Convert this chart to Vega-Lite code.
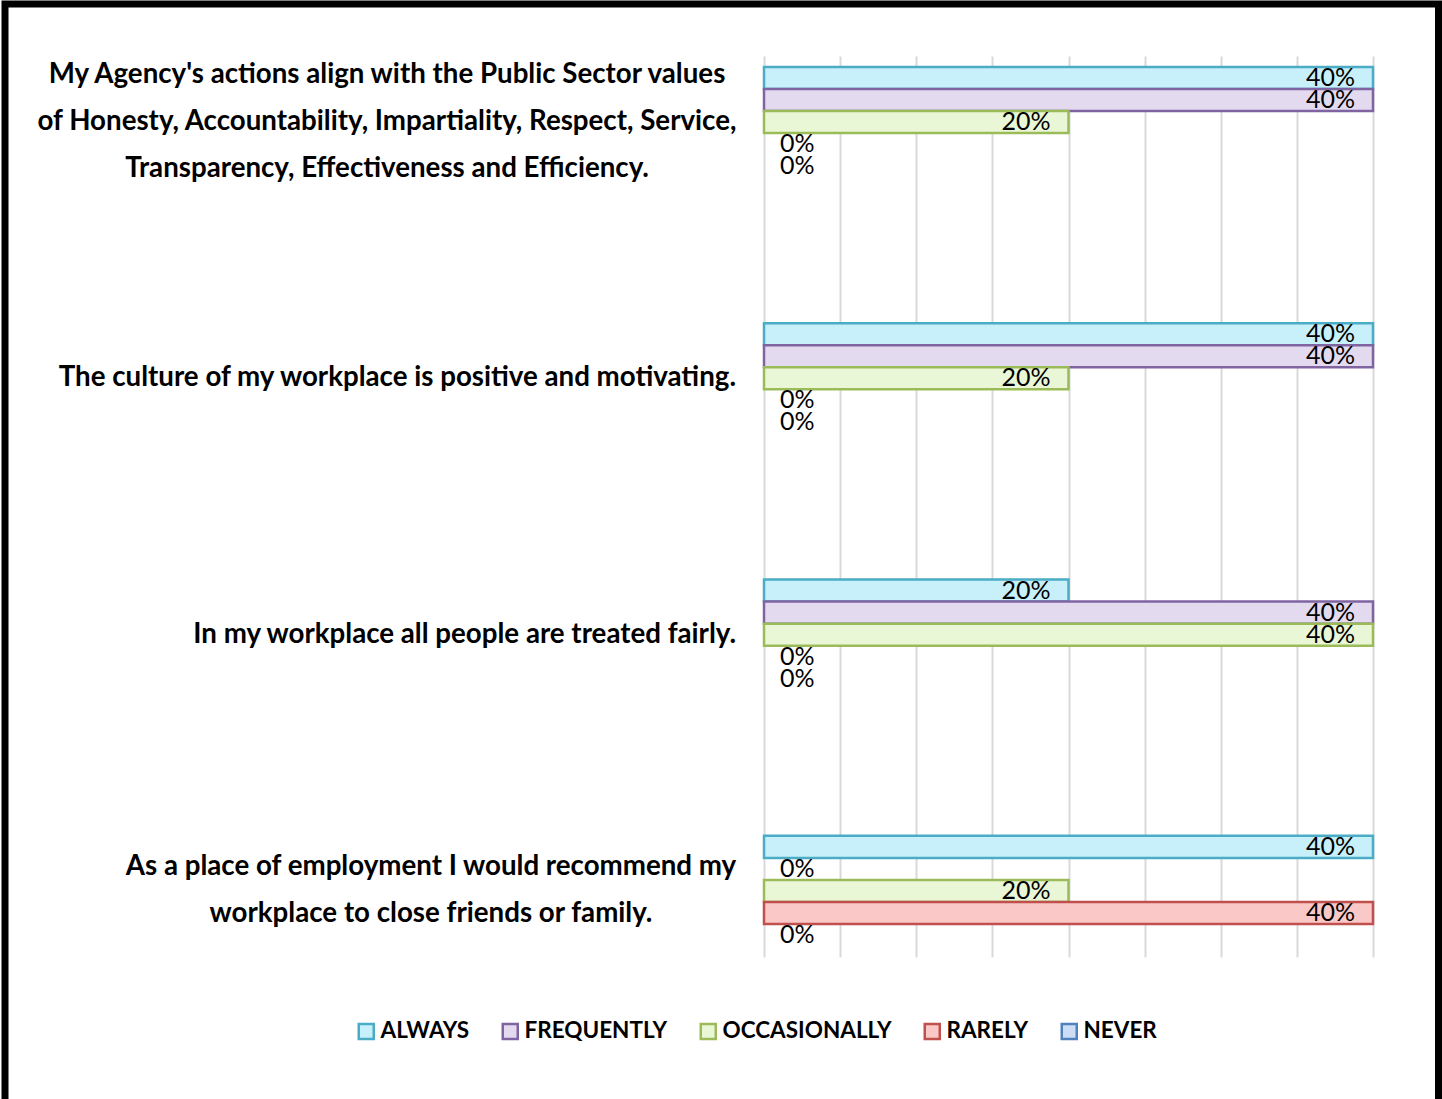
{
  "$schema": "https://vega.github.io/schema/vega-lite/v6.json",
  "width": 1433.5,
  "height": 1095,
  "autosize": {"type": "none"},
  "padding": {"left": 5, "top": 4, "right": 3.5, "bottom": 0},
  "background": "white",
  "view": {"stroke": "black", "strokeWidth": 7, "strokeDash": [2528.5, 1433.5, 1095], "fill": "white"},
  "data": {
    "values": [
      {"category": "My Agency's actions align with the Public Sector values\nof Honesty, Accountability, Impartiality, Respect, Service,\nTransparency, Effectiveness and Efficiency.", "series": "ALWAYS", "value": 0.4},
      {"category": "My Agency's actions align with the Public Sector values\nof Honesty, Accountability, Impartiality, Respect, Service,\nTransparency, Effectiveness and Efficiency.", "series": "FREQUENTLY", "value": 0.4},
      {"category": "My Agency's actions align with the Public Sector values\nof Honesty, Accountability, Impartiality, Respect, Service,\nTransparency, Effectiveness and Efficiency.", "series": "OCCASIONALLY", "value": 0.2},
      {"category": "My Agency's actions align with the Public Sector values\nof Honesty, Accountability, Impartiality, Respect, Service,\nTransparency, Effectiveness and Efficiency.", "series": "RARELY", "value": 0},
      {"category": "My Agency's actions align with the Public Sector values\nof Honesty, Accountability, Impartiality, Respect, Service,\nTransparency, Effectiveness and Efficiency.", "series": "NEVER", "value": 0},
      {"category": "The culture of my workplace is positive and motivating.", "series": "ALWAYS", "value": 0.4},
      {"category": "The culture of my workplace is positive and motivating.", "series": "FREQUENTLY", "value": 0.4},
      {"category": "The culture of my workplace is positive and motivating.", "series": "OCCASIONALLY", "value": 0.2},
      {"category": "The culture of my workplace is positive and motivating.", "series": "RARELY", "value": 0},
      {"category": "The culture of my workplace is positive and motivating.", "series": "NEVER", "value": 0},
      {"category": "In my workplace all people are treated fairly.", "series": "ALWAYS", "value": 0.2},
      {"category": "In my workplace all people are treated fairly.", "series": "FREQUENTLY", "value": 0.4},
      {"category": "In my workplace all people are treated fairly.", "series": "OCCASIONALLY", "value": 0.4},
      {"category": "In my workplace all people are treated fairly.", "series": "RARELY", "value": 0},
      {"category": "In my workplace all people are treated fairly.", "series": "NEVER", "value": 0},
      {"category": "As a place of employment I would recommend my\nworkplace to close friends or family.", "series": "ALWAYS", "value": 0.4},
      {"category": "As a place of employment I would recommend my\nworkplace to close friends or family.", "series": "FREQUENTLY", "value": 0},
      {"category": "As a place of employment I would recommend my\nworkplace to close friends or family.", "series": "OCCASIONALLY", "value": 0.2},
      {"category": "As a place of employment I would recommend my\nworkplace to close friends or family.", "series": "RARELY", "value": 0.4},
      {"category": "As a place of employment I would recommend my\nworkplace to close friends or family.", "series": "NEVER", "value": 0}
    ]
  },
  "encoding": {
    "y": {
      "field": "category",
      "type": "nominal",
      "sort": null,
      "title": null,
      "scale": {"range": [52, 953], "paddingInner": 0.5703, "paddingOuter": 0.043},
      "axis": null
    },
    "x": {
      "field": "value",
      "type": "quantitative",
      "title": null,
      "scale": {"domain": [0, 0.4], "range": [759, 1368], "nice": false},
      "axis": {
        "orient": "top",
        "values": [0, 0.05, 0.1, 0.15, 0.2, 0.25, 0.3, 0.35, 0.4],
        "labels": false,
        "ticks": false,
        "domain": false,
        "grid": true,
        "gridColor": "#D9D9D9",
        "gridWidth": 2
      }
    }
  },
  "layer": [
    {
      "transform": [{"filter": "datum.value > 0"}],
      "mark": {"type": "bar", "strokeWidth": 2.5},
      "encoding": {
        "yOffset": {
          "field": "series",
          "type": "nominal",
          "sort": ["ALWAYS", "FREQUENTLY", "OCCASIONALLY", "RARELY", "NEVER"],
          "scale": {"domain": ["ALWAYS", "FREQUENTLY", "OCCASIONALLY", "RARELY", "NEVER"], "paddingInner": 0, "paddingOuter": 0}
        },
        "fill": {
          "field": "series",
          "type": "nominal",
          "scale": {
            "domain": ["ALWAYS", "FREQUENTLY", "OCCASIONALLY", "RARELY", "NEVER"],
            "range": ["#C8F0FA", "#E3DAF0", "#EAF7D6", "#FAC8C7", "#CCDDF5"]
          },
          "legend": {
            "orient": "none", "legendX": 350, "legendY": 1016, "direction": "horizontal", "title": null,
            "symbolType": "square", "symbolSize": 225, "symbolStrokeWidth": 2.5,
            "labelFont": "Lato",
            "labelFontSize": 22.5, "labelFontWeight": "bold", "labelColor": "black",
            "labelOffset": 3, "columnPadding": 27, "labelLimit": 0
          }
        },
        "stroke": {
          "field": "series",
          "type": "nominal",
          "scale": {
            "domain": ["ALWAYS", "FREQUENTLY", "OCCASIONALLY", "RARELY", "NEVER"],
            "range": ["#4BACC6", "#8064A2", "#9BBB59", "#C0504D", "#4F81BD"]
          },
          "legend": {
            "orient": "none", "legendX": 350, "legendY": 1016, "direction": "horizontal", "title": null,
            "symbolType": "square", "symbolSize": 225, "symbolStrokeWidth": 2.5,
            "labelFont": "Lato",
            "labelFontSize": 22.5, "labelFontWeight": "bold", "labelColor": "black",
            "labelOffset": 3, "columnPadding": 27, "labelLimit": 0
          }
        }
      }
    },
    {
      "transform": [{"filter": "datum.value > 0"}],
      "mark": {"type": "text", "align": "right", "baseline": "middle", "dx": -18, "font": "Lato", "fontSize": 25, "color": "black"},
      "encoding": {
        "yOffset": {"field": "series", "type": "nominal", "sort": ["ALWAYS", "FREQUENTLY", "OCCASIONALLY", "RARELY", "NEVER"]},
        "text": {"field": "value", "type": "quantitative", "format": ".0%"}
      }
    },
    {
      "transform": [{"filter": "datum.value == 0"}],
      "mark": {"type": "text", "align": "left", "baseline": "middle", "dx": 16, "font": "Lato", "fontSize": 25, "color": "black"},
      "encoding": {
        "yOffset": {"field": "series", "type": "nominal", "sort": ["ALWAYS", "FREQUENTLY", "OCCASIONALLY", "RARELY", "NEVER"]},
        "text": {"field": "value", "type": "quantitative", "format": ".0%"}
      }
    },
    {
      "transform": [{"filter": "datum.series == 'ALWAYS' && indexof(datum.category, '\\n') < 0"}],
      "mark": {"type": "text", "align": "right", "baseline": "middle", "dx": -28, "font": "Lato", "fontWeight": "bold", "fontSize": 27.7, "color": "black"},
      "encoding": {
        "x": {"datum": 0, "type": "quantitative"},
        "text": {"field": "category", "type": "nominal"}
      }
    },
    {
      "transform": [{"filter": "datum.series == 'ALWAYS' && indexof(datum.category, 'My Agency') == 0"}],
      "mark": {"type": "text", "align": "center", "baseline": "middle", "dx": -377, "dy": -47, "lineBreak": "\n", "lineHeight": 47, "font": "Lato", "fontWeight": "bold", "fontSize": 27.7, "color": "black"},
      "encoding": {
        "x": {"datum": 0, "type": "quantitative"},
        "text": {"field": "category", "type": "nominal"}
      }
    },
    {
      "transform": [{"filter": "datum.series == 'ALWAYS' && indexof(datum.category, 'As a place') == 0"}],
      "mark": {"type": "text", "align": "center", "baseline": "middle", "dx": -333, "dy": -23.5, "lineBreak": "\n", "lineHeight": 47, "font": "Lato", "fontWeight": "bold", "fontSize": 27.7, "color": "black"},
      "encoding": {
        "x": {"datum": 0, "type": "quantitative"},
        "text": {"field": "category", "type": "nominal"}
      }
    }
  ]
}
